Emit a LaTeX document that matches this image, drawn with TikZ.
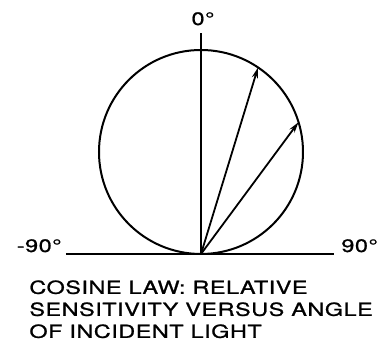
\documentclass[tikz,border=0pt]{standalone}
\usepackage{fontspec}
\setmainfont{TeX Gyre Heros}[FakeStretch=1.3,LetterSpace=3,FakeBold=1]
\usetikzlibrary{calc,arrows.meta,positioning}
\tikzset{lbl/.style={inner sep=0pt, font=\fontsize{9}{11}\selectfont}, ray/.style={line width=0.9pt, -{Stealth[length=5.5pt,width=3pt]}}, axis/.style={line width=1.2pt}}

\begin{document}
\begin{tikzpicture}[x=0.5pt,y=-0.5pt]
    \useasboundingbox (0,0) rectangle (377,356);
    \coordinate (O) at (201,254);
    \coordinate (C) at (201,152);
    \coordinate (L) at (66,254);
    \coordinate (R) at (334,254);
    \coordinate (T) at (201,33);
    \coordinate (P1) at ($(C)+(56:51pt)$);
    \coordinate (P2) at ($(C)+(17:51pt)$);
    \draw[line width=1pt] (C) circle [radius=51pt];
    \draw[axis] (L) -- (R);
    \draw[axis] (O) -- (T);
    \path[ray] (O) edge (P1) (O) edge (P2);
    \node[lbl,anchor=base] (zero) at (203,25) {0°};
    \node[lbl,anchor=base east] (left) at (62,252) {-90°};
    \node[lbl,anchor=base west] (right) at (341,252) {90°};
    \node[lbl,anchor=north west,align=left] (caption) at (29,280) {COSINE LAW: RELATIVE\\SENSITIVITY VERSUS ANGLE\\OF INCIDENT LIGHT};
\end{tikzpicture}
\end{document}
